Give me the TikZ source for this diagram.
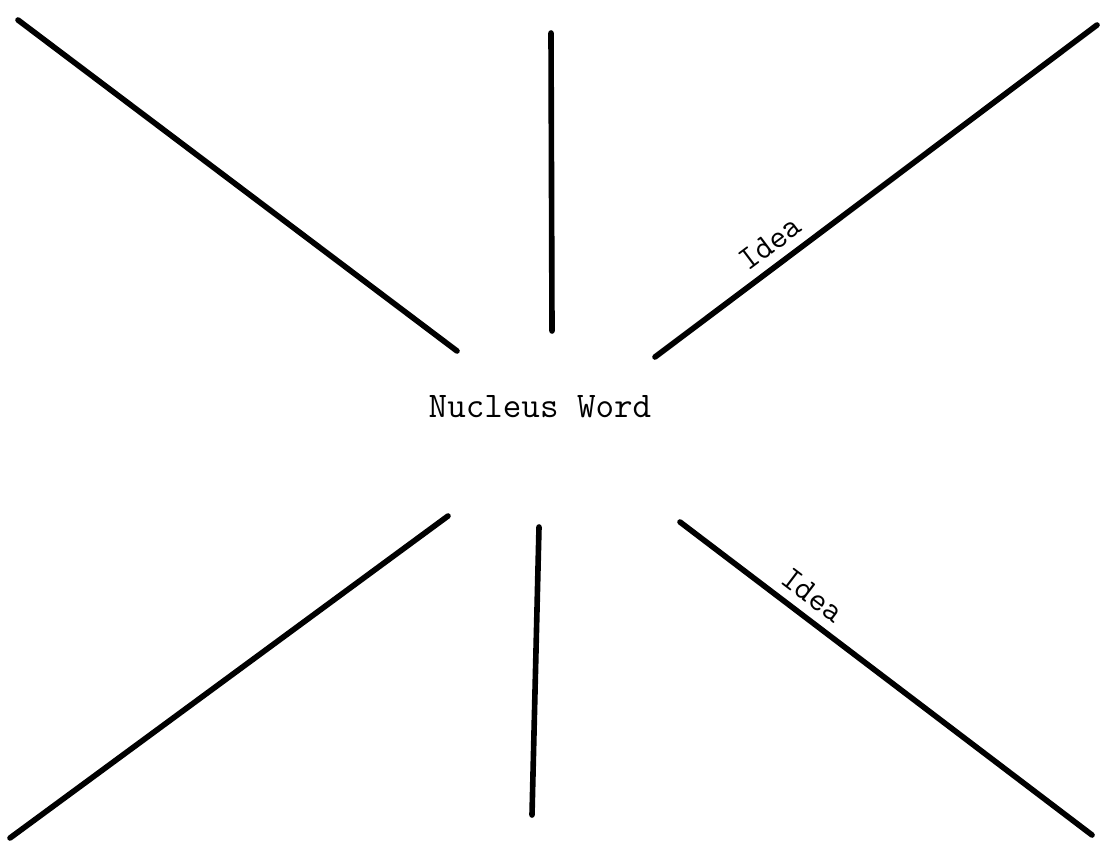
\documentclass[tikz,border=0pt]{standalone}
\usepackage{tikz}
\usetikzlibrary{positioning}

\begin{document}
\begin{tikzpicture}[x=0.02cm, y=-0.02cm,
    spoke/.style={black, line width=3.2pt, line cap=round},
    word/.style={font=\ttfamily\fontsize{20.5}{22}\selectfont, inner sep=0pt},
    idea/.style={font=\ttfamily\fontsize{19}{21}\selectfont, sloped, above=5pt, inner sep=0pt}]
    \useasboundingbox (0,0) rectangle (1102,855);
    \node[word] (nucleus) at (540,407) {Nucleus Word};
    % inner ends of the spokes
    \coordinate (tl1) at (457,351);
    \coordinate (tm1) at (552,331);
    \coordinate (tr1) at (655,357);
    \coordinate (bl1) at (448,516);
    \coordinate (bm1) at (539,527);
    \coordinate (br1) at (680,522);
    % outer ends
    \coordinate (tl2) at (18,20);
    \coordinate (tm2) at (551,33);
    \coordinate (tr2) at (1097,25);
    \coordinate (bl2) at (10,838);
    \coordinate (bm2) at (532,815);
    \coordinate (br2) at (1092,835);
    \draw[spoke] (tl1)--(tl2);
    \draw[spoke] (tm1)--(tm2);
    \draw[spoke] (tr1)--(tr2) node[idea, pos=0.29] {Idea};
    \draw[spoke] (bl1)--(bl2);
    \draw[spoke] (bm1)--(bm2);
    \draw[spoke] (br1)--(br2) node[idea, pos=0.29] {Idea};
\end{tikzpicture}
\end{document}
